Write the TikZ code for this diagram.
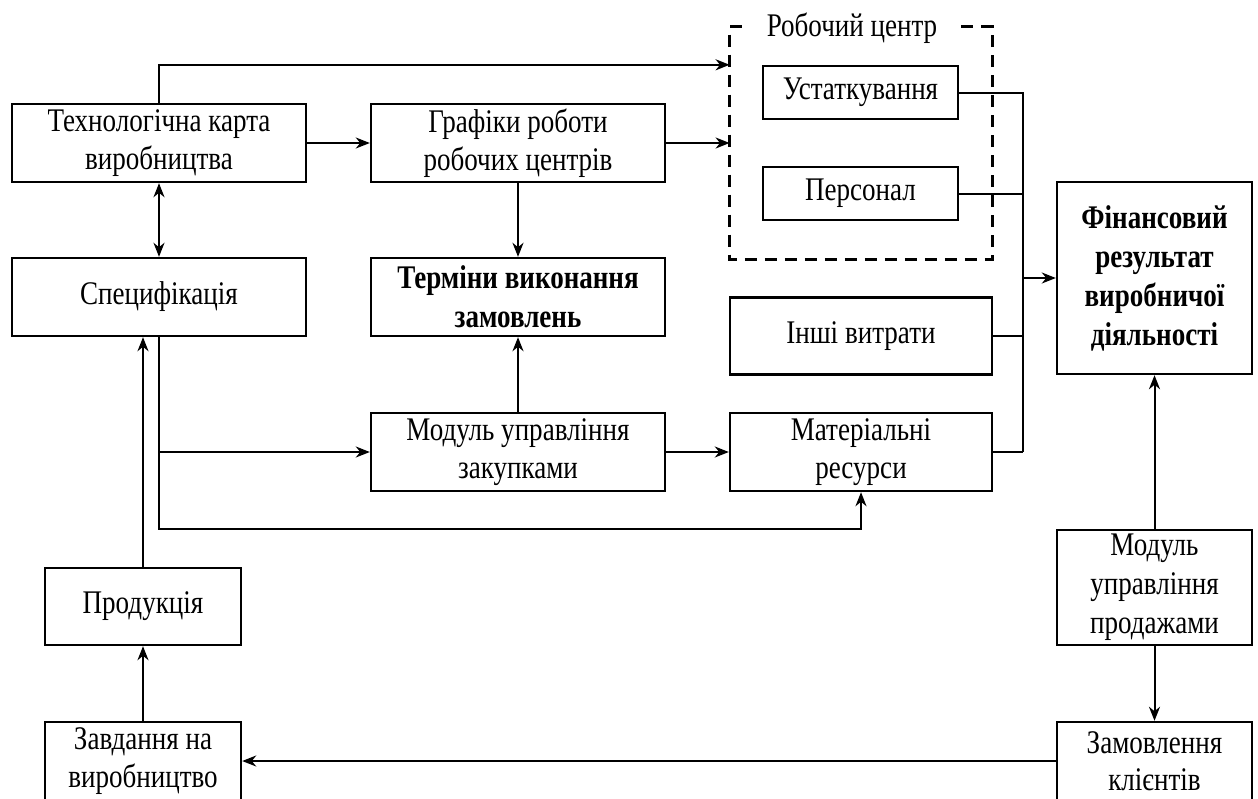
\documentclass[tikz,border=0pt]{standalone}
\usepackage{fontspec}
\setmainfont[FakeStretch=0.82]{Liberation Serif}
\usetikzlibrary{arrows.meta,calc}
\begin{document}
\begin{tikzpicture}[x=0.5pt,y=-0.5pt,
  box/.style={draw, line width=1.2pt, align=center, inner sep=0pt,
    font=\fontsize{16.5}{18.75}\selectfont},
  bbox/.style={box, font=\fontsize{16.5}{19.5}\selectfont\bfseries},
  ln/.style={line width=1pt},
  tip/.tip={Stealth[length=7pt,width=5.5pt,inset=2.2pt]},
  conn/.style={ln, -tip},
  dconn/.style={ln, tip-tip},
  wcframe/.style={line width=1.5pt, dash pattern=on 6pt off 4pt}]
\useasboundingbox (0,0) rectangle (1258,798);

% boxes
\node[box, minimum width=147pt, minimum height=39pt] (tech) at (159,143) {Технологічна карта\\виробництва};
\node[box, minimum width=147pt, minimum height=39pt] (graph) at (518,143) {Графіки роботи\\робочих центрів};
\node[box, minimum width=147pt, minimum height=39pt] (spec) at (159,297) {Специфікація};
\node[bbox, minimum width=147pt, minimum height=39pt] (terms) at (518,297) {Терміни виконання\\замовлень};
\node[box, minimum width=147pt, minimum height=39pt] (zakup) at (518,452) {Модуль управління\\закупками};
\node[box, minimum width=131pt, minimum height=39pt] (mater) at (861,452) {Матеріальні\\ресурси};
\node[box, minimum width=131pt, minimum height=38.5pt] (inshi) at (861,336) {Інші витрати};
\node[box, minimum width=97.5pt, minimum height=26.5pt] (equip) at (860.5,92.5) {Устаткування};
\node[box, minimum width=97.5pt, minimum height=26.5pt] (pers) at (860.5,193.5) {Персонал};
\node[bbox, minimum width=97.5pt, minimum height=96pt] (fin) at (1154.5,278) {Фінансовий\\результат\\виробничої\\діяльності};
\node[box, minimum width=97.5pt, minimum height=57.5pt, font=\fontsize{16.5}{19.5}\selectfont] (prodaj) at (1154.5,587.5) {Модуль\\управління\\продажами};
\node[box, minimum width=97.5pt, minimum height=39pt] (zamovl) at (1154.5,761) {Замовлення\\клієнтів};
\node[box, minimum width=98pt, minimum height=39pt] (zavd) at (143,761) {Завдання на\\виробництво};
\node[box, minimum width=98pt, minimum height=38.5pt] (prod) at (143,606.5) {Продукція};

% work centre frame
\node[minimum width=131pt, minimum height=116pt, inner sep=0pt] (wc) at (861,143) {};
\node[anchor=base, inner sep=0pt, font=\fontsize{16.5}{18.5}\selectfont] (wclabel) at (852,36) {Робочий центр};
\draw[wcframe] ($(wc.north west)+(12,0)$) -- (wc.north west) -- (wc.south west) -- (wc.south east) -- (wc.north east) -- ++(-34,0);

% connectors
\draw[conn] (tech.north) |- (wc.west |- equip.north);
\draw[conn] (tech) -- (graph);
\draw[conn] (graph) -- (wc.west);
\draw[dconn] (tech) -- (spec);
\draw[conn] (graph) -- (terms);
\draw[conn] (zakup) -- (terms);

\coordinate (busB) at (1023,452);
\draw[ln] (equip.east) -| (busB);
\draw[ln] (pers.east) -- (pers.east -| busB);
\draw[ln] (inshi.east) -- (inshi.east -| busB);
\draw[ln] (mater.east) -- (busB);
\draw[conn] (busB |- fin.west) -- (fin.west);

\coordinate (lowY) at (0,529);
\draw[conn] (spec.south) |- (lowY -| mater.south) -- (mater.south);
\draw[conn] (spec.south |- zakup.west) -- (zakup.west);
\draw[conn] (zakup) -- (mater);

\draw[conn] (prod.north) -- (prod.north |- spec.south);
\draw[conn] (zavd) -- (prod);
\draw[conn] (prodaj) -- (fin);
\draw[conn] (prodaj) -- (zamovl);
\draw[conn] (zamovl) -- (zavd);
\end{tikzpicture}
\end{document}
